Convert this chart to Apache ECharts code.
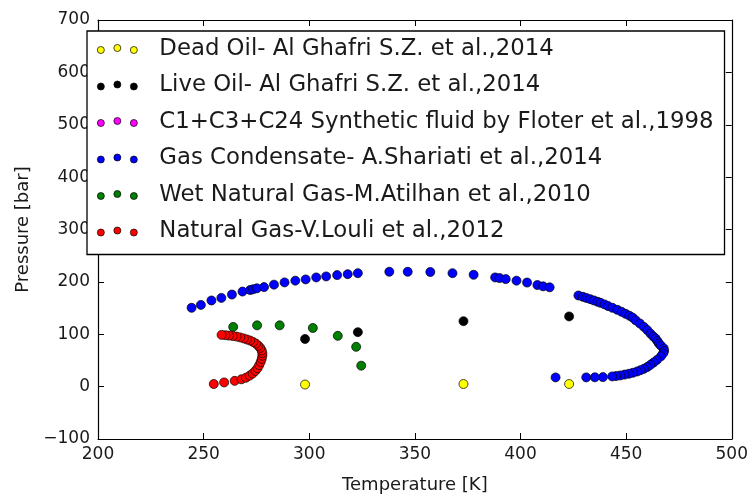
<!DOCTYPE html>
<html>
<head>
<meta charset="utf-8">
<script src="https://cdn.jsdelivr.net/npm/echarts@6/dist/echarts.min.js"></script>
<style>
  html, body { margin: 0; padding: 0; background: #fff; }
  #chart { width: 751px; height: 499px; }
</style>
</head>
<body>
<div id="chart"></div>
<script>
// Phase envelope measurements: [temperature K, pressure bar]
const seriesNames = [
  "Dead Oil- Al Ghafri S.Z. et al.,2014",
  "Live Oil- Al Ghafri S.Z. et al.,2014",
  "C1+C3+C24 Synthetic fluid by Floter et al.,1998",
  "Gas Condensate- A.Shariati et al.,2014",
  "Wet Natural Gas-M.Atilhan et al.,2010",
  "Natural Gas-V.Louli et al.,2012"
];
const seriesColors = ["#ffff00", "#000000", "#ff00ff", "#0000ff", "#008000", "#ff0000"];

const deadOil = [[298, 4], [373, 5], [423, 5]];
const liveOil = [[298, 91], [323, 104], [373, 125], [423, 134]];
const synthetic = [];
const gasCondensate = [
  [244.3, 150.5], [248.7, 156], [253.7, 164.5], [258.4, 169.4], [263.4, 175.8],
  [268.4, 181.5], [272.0, 184.5], [273.4, 185.8], [275.2, 187.7], [278.6, 190],
  [283.3, 194.7], [288.3, 199], [293.4, 202.3], [298.3, 204.7], [303.3, 208.5],
  [308.0, 210.4], [313.2, 212.9], [318.2, 214.7], [323.0, 216.6], [337.9, 219.3],
  [346.6, 219.3], [357.3, 218.9], [367.8, 216.6], [377.8, 213.6], [388.0, 208.5],
  [390.1, 207.2], [393.0, 205.3], [398.1, 202.3], [403.1, 198.7], [408.0, 194],
  [410.7, 191.5], [413.8, 189.6],
  [427.4, 174], [429.5, 171.5], [431.1, 169.4], [433.0, 167], [434.8, 164.5],
  [436.5, 162], [437.9, 160], [439.8, 157], [441.5, 153.7], [443.5, 150.5],
  [445.8, 146.7], [447.8, 143], [449.7, 139.1], [451.5, 135.5], [453.0, 132],
  [454.5, 126.7], [456.5, 120.5], [458.4, 114], [460.0, 108], [461.5, 101.3],
  [462.8, 96], [463.9, 91.9], [464.8, 87], [465.5, 82.4], [466.5, 78],
  [467.8, 73], [468.0, 68], [467.5, 63.5], [466.5, 58], [464.6, 51],
  [463.0, 46], [461.5, 41.6], [460.0, 37.5], [458.4, 34], [456.8, 31.5],
  [455.2, 28.9], [453.2, 26.5], [451.3, 24.6], [449.3, 23], [447.3, 21.4],
  [445.3, 20.3], [443.4, 19.5], [439.0, 18.2], [435.2, 17.8], [431.1, 17.6],
  [416.6, 17.6]
];
const wetGas = [[264, 114], [275.3, 117], [286, 117], [301.7, 112], [313.5, 97], [322.2, 76], [324.6, 40]];
const naturalGas = [
  [254.8, 5], [259.7, 8], [264.7, 11], [267.9, 14], [270.0, 17], [271.8, 21],
  [273.2, 25], [274.5, 30], [275.5, 35], [276.3, 41], [277.0, 47], [277.5, 53],
  [277.8, 59], [277.8, 64], [277.5, 69], [276.8, 74], [275.9, 78], [274.8, 82],
  [273.5, 85], [272.0, 88], [270.5, 90], [269.0, 92], [267.3, 94], [265.6, 95.5],
  [263.8, 96.7], [262.0, 97.5], [260.3, 98.2], [258.5, 98.8]
];
const allData = [deadOil, liveOil, synthetic, gasCondensate, wetGas, naturalGas];

const xTicks = { min: 200, max: 500, interval: 50 };
const yTicks = { min: -100, max: 700, interval: 100 };

const font = "DejaVu Sans";
const textColor = "#1a1a1a";
// Three dots per legend entry, the middle one slightly raised
const threeDots = "path://M0,5a3.5,3.5 0 1,0 7,0a3.5,3.5 0 1,0 -7,0" +
  "M16.5,3a3.5,3.5 0 1,0 7,0a3.5,3.5 0 1,0 -7,0" +
  "M33,5a3.5,3.5 0 1,0 7,0a3.5,3.5 0 1,0 -7,0";

const minusFmt = v => String(v).replace("-", "\u2212");

const chart = echarts.init(document.getElementById("chart"), null, { renderer: "canvas" });

const axisLineStyle = { show: true, onZero: false, lineStyle: { color: "#000", width: 1.2 } };
const tickStyle = { show: true, inside: true, length: 6, lineStyle: { color: "#000", width: 1 } };

chart.setOption({
  animation: false,
  backgroundColor: "#fff",
  grid: { left: 98, right: 18, top: 20, bottom: 56, containLabel: false },
  xAxis: [
    {
      type: "value", position: "bottom", min: xTicks.min, max: xTicks.max, interval: xTicks.interval,
      name: "Temperature [K]", nameLocation: "middle", nameGap: 37,
      nameTextStyle: { fontFamily: font, fontSize: 18, color: textColor },
      axisLine: axisLineStyle, axisTick: tickStyle, splitLine: { show: false },
      axisLabel: { fontFamily: font, fontSize: 17, color: textColor, margin: 7, formatter: minusFmt }
    },
    {
      type: "value", position: "top", min: xTicks.min, max: xTicks.max, interval: xTicks.interval,
      axisLine: axisLineStyle, axisTick: tickStyle, splitLine: { show: false }, axisLabel: { show: false }
    }
  ],
  yAxis: [
    {
      type: "value", position: "left", min: yTicks.min, max: yTicks.max, interval: yTicks.interval,
      name: "Pressure [bar]", nameLocation: "middle", nameGap: 66,
      nameTextStyle: { fontFamily: font, fontSize: 18, color: textColor },
      axisLine: axisLineStyle, axisTick: tickStyle, splitLine: { show: false },
      axisLabel: { fontFamily: font, fontSize: 17, color: textColor, margin: 8, formatter: minusFmt }
    },
    {
      type: "value", position: "right", min: yTicks.min, max: yTicks.max, interval: yTicks.interval,
      axisLine: axisLineStyle, axisTick: tickStyle, splitLine: { show: false }, axisLabel: { show: false }
    }
  ],
  legend: {
    orient: "vertical", left: 87, top: 31,
    backgroundColor: "#fff", borderColor: "#000", borderWidth: 1.3, borderRadius: 0,
    padding: [5, 11, 10, 10], itemGap: 10.5,
    icon: threeDots, itemWidth: 40, itemHeight: 9,
    itemStyle: { borderColor: "#000", borderWidth: 0.7 },
    textStyle: { fontFamily: font, fontSize: 22.8, color: textColor, lineHeight: 26, padding: [0, 0, 0, 17] },
    data: seriesNames
  },
  series: seriesNames.map((name, i) => ({
    name: name,
    type: "scatter",
    xAxisIndex: 0, yAxisIndex: 0,
    data: allData[i],
    symbol: "circle",
    symbolSize: 9,
    itemStyle: { color: seriesColors[i], borderColor: "#000", borderWidth: 0.7, opacity: 1 },
    emphasis: { disabled: true }
  }))
});
</script>
</body>
</html>
